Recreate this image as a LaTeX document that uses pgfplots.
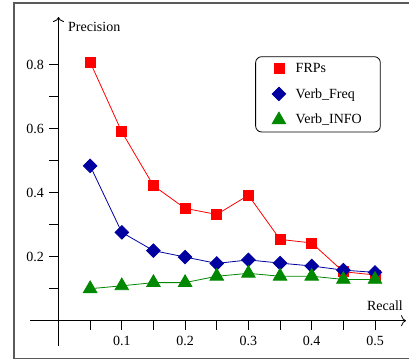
\documentclass[border=0pt]{standalone}
\usepackage{pgfplots}
\pgfplotsset{compat=1.18}
\usepackage{fontspec}
\setmainfont{Liberation Serif}
\usetikzlibrary{arrows.meta}
\definecolor{cred}{RGB}{255,0,0}
\definecolor{cblue}{RGB}{0,0,160}
\definecolor{cgreen}{RGB}{0,136,0}
\definecolor{cframe}{RGB}{90,90,90}
\begin{document}
\begin{tikzpicture}
\useasboundingbox (-58.5pt,-39.3pt) rectangle (350.5pt,320.7pt);
\draw[cframe, line width=1.3pt] (370pt,317.7pt) -- (-44.5pt,317.7pt) -- (-44.5pt,-37.6pt) -- (370pt,-37.6pt);
\begin{axis}[
  anchor=origin, at={(0pt,0pt)},
  x=633pt, y=320pt,
  xmin=-0.045, xmax=0.549, ymin=-0.078, ymax=0.949,
  axis lines=middle,
  enlargelimits=false,
  clip=false,
  axis line style={black, line width=0.8pt, -{To[length=5pt,width=11pt]}},
  xtick={0.1,0.2,0.3,0.4,0.5},
  minor xtick={0.05,0.15,0.25,0.35,0.45},
  ytick={0.2,0.4,0.6,0.8},
  minor ytick={0.1,0.3,0.5,0.7},
  tick align=outside,
  major tick length=9pt, minor tick length=9pt,
  every tick/.style={black, line width=0.8pt},
  /pgf/number format/assume math mode=true,
  /pgf/number format/fixed,
  /pgf/number format/precision=1,
  tick label style={font=\fontsize{14}{16}\selectfont},
  xticklabel style={yshift=-3pt},
  yticklabel style={xshift=-2pt},
  legend style={at={(0.599,0.8805)}, anchor=north west, draw=black, line width=0.8pt,
    rounded corners=6pt, font=\fontsize{14}{16}\selectfont,
    inner xsep=16.5pt, inner ysep=4.5pt, row sep=10.5pt, /tikz/column sep=8pt},
  legend cell align=left,
]
\addplot[cred, line width=0.8pt, mark=square*, mark size=5pt, mark options={solid, fill=cred, draw=cred}, forget plot]
coordinates {(0.05,0.808) (0.10,0.590) (0.15,0.422) (0.20,0.351) (0.25,0.332) (0.30,0.392) (0.35,0.254) (0.40,0.243) (0.45,0.153) (0.50,0.143)};
\addplot[cblue, line width=0.8pt, mark=square*, mark size=4.8pt, mark options={solid, rotate=45, fill=cblue, draw=cblue}, forget plot]
coordinates {(0.05,0.484) (0.10,0.276) (0.15,0.219) (0.20,0.199) (0.25,0.179) (0.30,0.190) (0.35,0.180) (0.40,0.171) (0.45,0.158) (0.50,0.151)};
\addplot[cgreen, line width=0.8pt, mark=triangle*, mark size=7.8pt, mark options={solid, fill=cgreen, draw=cgreen}, forget plot]
coordinates {(0.05,0.100) (0.10,0.109) (0.15,0.119) (0.20,0.119) (0.25,0.139) (0.30,0.148) (0.35,0.139) (0.40,0.139) (0.45,0.129) (0.50,0.129)};
\addlegendimage{only marks, mark=square*, mark size=5pt, mark options={fill=cred, draw=cred}}
\addlegendentry{FRPs}
\addlegendimage{only marks, mark=square*, mark size=4.8pt, mark options={rotate=45, fill=cblue, draw=cblue}}
\addlegendentry{Verb\_Freq}
\addlegendimage{only marks, mark=triangle*, mark size=7.8pt, mark options={fill=cgreen, draw=cgreen}}
\addlegendentry{Verb\_INFO}
\node[anchor=base west, inner sep=0pt, font=\fontsize{14}{16}\selectfont] at (axis cs:0.015,0.903) {Precision};
\node[anchor=base east, inner sep=0pt, font=\fontsize{14}{16}\selectfont] at (axis cs:0.5442,0.0334) {Recall};
\end{axis}
\end{tikzpicture}
\end{document}
